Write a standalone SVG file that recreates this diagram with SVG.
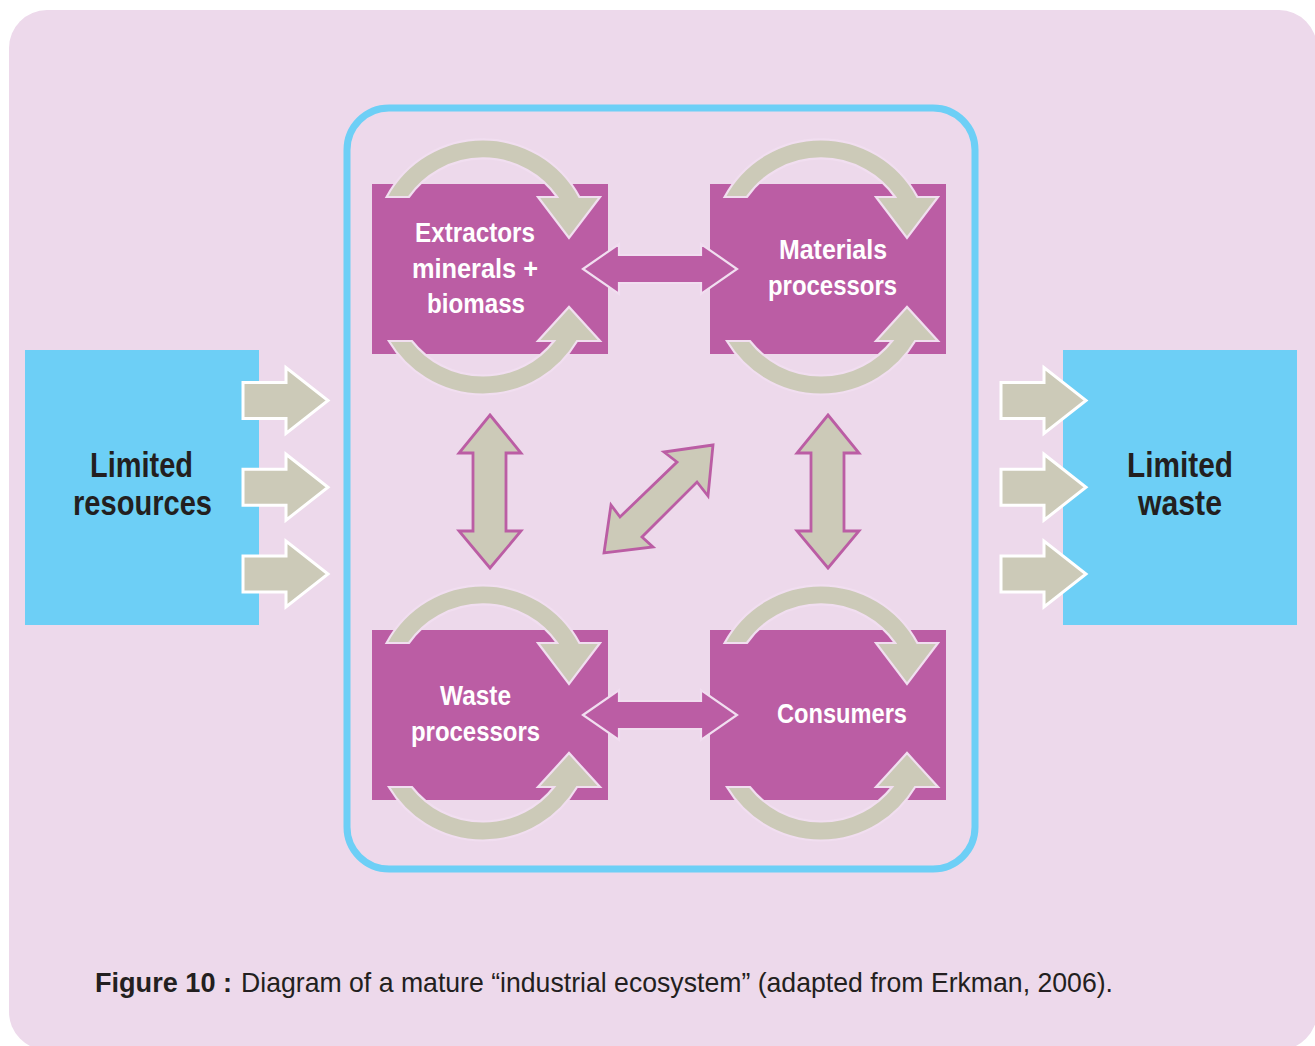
<svg xmlns="http://www.w3.org/2000/svg" xmlns:xlink="http://www.w3.org/1999/xlink" width="1315" height="1046" viewBox="0 0 1315 1046">
<style>
.bg{fill:#edd9eb}
.frame{fill:none;stroke:#6dcff6;stroke-width:7}
.blue{fill:#6dcff6}
.box{fill:#bb5da4}
.loop{fill:#cccab8;stroke:#f1def0;stroke-width:2.2;stroke-linejoin:miter}
.side{fill:#cccab8;stroke:#ffffff;stroke-width:3}
.hdbl{fill:#bb5da4;stroke:#f1def0;stroke-width:2.2}
.gdbl{fill:#cccab8;stroke:#bb5da4;stroke-width:2.8}
.lbl{font-family:"Liberation Sans",Arial,sans-serif;font-weight:bold;font-size:28px;fill:#ffffff;text-anchor:middle}
.ext{font-family:"Liberation Sans",Arial,sans-serif;font-weight:bold;font-size:35px;fill:#231f20;text-anchor:middle}
.cap{font-family:"Liberation Sans",Arial,sans-serif;font-size:28px;fill:#231f20}
</style>
<defs>
<path id="loopTop" class="loop" d="M14.6,13 A109.5,109.5 0 0 1 207.4,13 L228,13 L197,54 L166,13 L185.1,13 A90.5,90.5 0 0 0 36.9,13 Z"/>
<path id="loopBot" class="loop" d="M16.9,157 A109.5,109.5 0 0 0 205.1,157 L228,157 L197,123 L166,157 L182.1,157 A90.5,90.5 0 0 1 39.9,157 Z"/>
<path id="sideArrow" class="side" d="M0,-18 H43 V-33 L85,0 L43,33 V18 H0 Z"/>
<path id="hDouble" class="hdbl" d="M583,269 L619,244 V255 H701 V244 L737,269 L701,294 V283 H619 V294 Z"/>
<path id="vDouble" class="gdbl" d="M490,415 L521,453 H506 V531 H521 L490,568 L459,531 H473 V453 H459 Z"/>
</defs>
<rect class="bg" x="9" y="10" width="1308" height="1040" rx="38"/>
<rect class="frame" x="347" y="108" width="628" height="761" rx="42"/>
<g id="limited-resources">
<rect class="blue" x="25" y="350" width="234" height="275"/>
<text class="ext" x="141.5" y="477" textLength="103" lengthAdjust="spacingAndGlyphs">Limited</text>
<text class="ext" x="142.5" y="515" textLength="139" lengthAdjust="spacingAndGlyphs">resources</text>
</g>
<g id="limited-waste">
<rect class="blue" x="1063" y="350" width="234" height="275"/>
<text class="ext" x="1180" y="477" textLength="106" lengthAdjust="spacingAndGlyphs">Limited</text>
<text class="ext" x="1180" y="515" textLength="84" lengthAdjust="spacingAndGlyphs">waste</text>
</g>
<g id="extractors">
<rect class="box" x="372" y="184" width="236" height="170"/>
</g>
<g id="materials-processors">
<rect class="box" x="710" y="184" width="236" height="170"/>
</g>
<g id="waste-processors">
<rect class="box" x="372" y="630" width="236" height="170"/>
</g>
<g id="consumers">
<rect class="box" x="710" y="630" width="236" height="170"/>
</g>
<g id="connectors">
<use xlink:href="#sideArrow" x="243" y="400.5"/>
<use xlink:href="#sideArrow" x="243" y="487.2"/>
<use xlink:href="#sideArrow" x="243" y="574"/>
<use xlink:href="#sideArrow" x="1001" y="400.5"/>
<use xlink:href="#sideArrow" x="1001" y="487.2"/>
<use xlink:href="#sideArrow" x="1001" y="574"/>
<use xlink:href="#loopTop" x="372" y="184"/>
<use xlink:href="#loopBot" x="372" y="184"/>
<use xlink:href="#loopTop" x="710" y="184"/>
<use xlink:href="#loopBot" x="710" y="184"/>
<use xlink:href="#loopTop" x="372" y="630"/>
<use xlink:href="#loopBot" x="372" y="630"/>
<use xlink:href="#loopTop" x="710" y="630"/>
<use xlink:href="#loopBot" x="710" y="630"/>
<use xlink:href="#hDouble"/>
<use xlink:href="#hDouble" y="446"/>
<use xlink:href="#vDouble"/>
<use xlink:href="#vDouble" x="338"/>
<path class="gdbl" d="M713,445 L708,496 L697,482 L642,537 L653,547 L604,553 L611,505 L620,517 L677,462 L664,452 Z"/>
</g>
<g id="labels">
<text class="lbl" x="475" y="242" textLength="120" lengthAdjust="spacingAndGlyphs">Extractors</text>
<text class="lbl" x="475" y="278" textLength="126" lengthAdjust="spacingAndGlyphs">minerals +</text>
<text class="lbl" x="476" y="313" textLength="98" lengthAdjust="spacingAndGlyphs">biomass</text>
<text class="lbl" x="833" y="259" textLength="108" lengthAdjust="spacingAndGlyphs">Materials</text>
<text class="lbl" x="832.5" y="295" textLength="129" lengthAdjust="spacingAndGlyphs">processors</text>
<text class="lbl" x="475.5" y="705" textLength="71" lengthAdjust="spacingAndGlyphs">Waste</text>
<text class="lbl" x="475.5" y="741" textLength="129" lengthAdjust="spacingAndGlyphs">processors</text>
<text class="lbl" x="842" y="723" textLength="130" lengthAdjust="spacingAndGlyphs">Consumers</text>
</g>
<g id="caption">
<text class="cap" x="95" y="992" font-weight="bold" textLength="137" lengthAdjust="spacingAndGlyphs">Figure 10 :</text>
<text class="cap" x="241" y="992" textLength="872" lengthAdjust="spacingAndGlyphs">Diagram of a mature “industrial ecosystem” (adapted from Erkman, 2006).</text>
</g>
</svg>
